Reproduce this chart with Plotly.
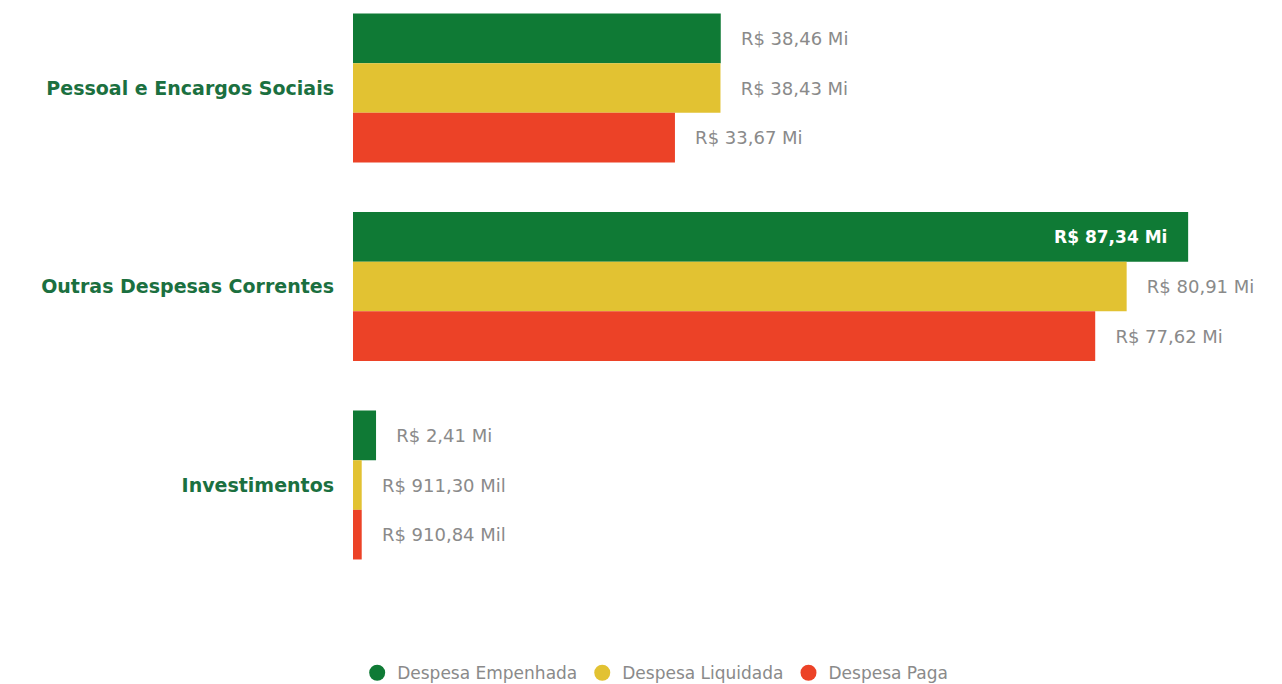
import plotly.graph_objects as go

categorias = ['Pessoal e Encargos Sociais', 'Outras Despesas Correntes', 'Investimentos']

series = ['Despesa Empenhada', 'Despesa Liquidada', 'Despesa Paga']
cores = ['#0f7a35', '#e2c232', '#ec4227']

# valores em milhões de R$
empenhada = [38.46, 87.34, 2.41]
liquidada = [38.43, 80.91, 0.9113]
paga = [33.67, 77.62, 0.91084]

rotulos_empenhada = ['R$ 38,46 Mi', 'R$ 87,34 Mi', 'R$ 2,41 Mi']
rotulos_liquidada = ['R$ 38,43 Mi', 'R$ 80,91 Mi', 'R$ 911,30 Mil']
rotulos_paga = ['R$ 33,67 Mi', 'R$ 77,62 Mi', 'R$ 910,84 Mil']

valores = [empenhada, liquidada, paga]
rotulos = [rotulos_empenhada, rotulos_liquidada, rotulos_paga]

pad = '\u00a0' * 3
maximo = max(max(v) for v in valores)

fig = go.Figure()
for nome, cor, vals, rots in zip(series, cores, valores, rotulos):
    pos = ['inside' if v == maximo else 'outside' for v in vals]
    txt = [r + pad if v == maximo else pad + r for v, r in zip(vals, rots)]
    fig.add_trace(go.Bar(
        y=categorias, x=vals, name=nome, orientation='h',
        marker=dict(color=cor, line=dict(width=0)),
        text=txt, textposition=pos, insidetextanchor='end',
        insidetextfont=dict(color='white', size=17, family='DejaVu Sans', weight='bold'),
        outsidetextfont=dict(color='#8a8a8a', size=18, family='DejaVu Sans'),
        constraintext='none', cliponaxis=False, showlegend=False,
    ))
    # item de legenda com marcador circular
    fig.add_trace(go.Scatter(
        x=[None], y=[None], mode='markers', name=nome,
        marker=dict(color=cor, size=17, symbol='circle'),
    ))

fig.update_layout(
    width=1274, height=676,
    barmode='group', bargap=0.25, bargroupgap=0,
    plot_bgcolor='white', paper_bgcolor='white',
    margin=dict(l=345, r=12, t=0, b=60),
    xaxis=dict(range=[0, 95.9], visible=False, showgrid=False, zeroline=False),
    yaxis=dict(range=[2.700, -0.403], showgrid=False, zeroline=False, ticks='',
               ticklabelstandoff=18,
               tickfont=dict(family='DejaVu Sans', size=19, color='#1b7040', weight='bold')),
    legend=dict(orientation='h', xref='container', yref='container',
                x=0.508, xanchor='center', y=0.016, yanchor='middle',
                font=dict(family='DejaVu Sans', size=17, color='#8a8a8a'),
                itemwidth=30, tracegroupgap=0),
)

fig.write_html('out.html')
